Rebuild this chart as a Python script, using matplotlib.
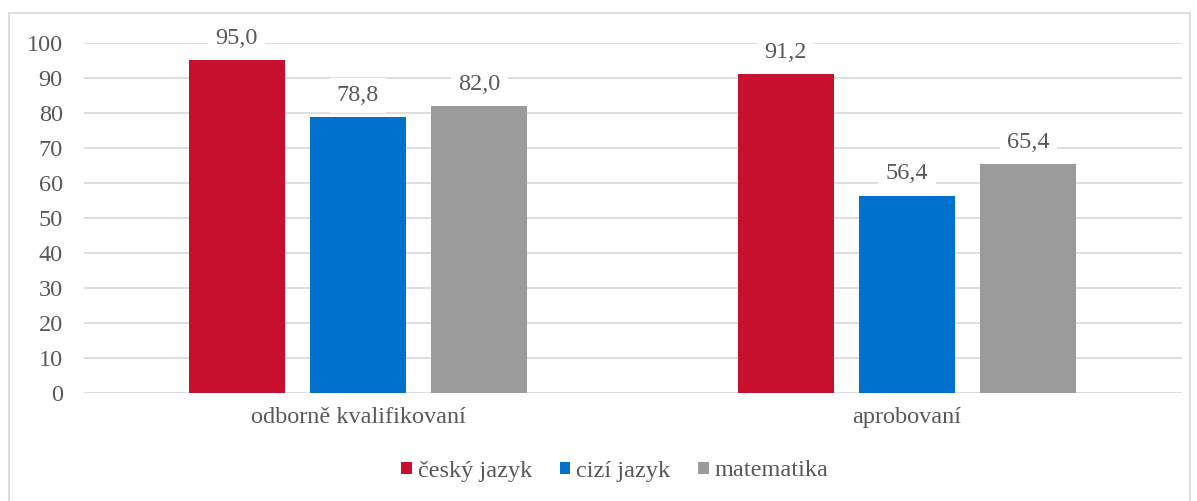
import matplotlib
matplotlib.use("Agg")
import matplotlib.pyplot as plt
import numpy as np
from matplotlib.patches import Rectangle

categories = ["odborně kvalifikovaní", "aprobovaní"]
series_names = ["český jazyk", "cizí jazyk", "matematika"]
cesky = [95.0, 91.2]
cizi = [78.8, 56.4]
matematika = [82.0, 65.4]
colors = ["#C80F2E", "#0072CE", "#9B9B9B"]

plt.rcParams['font.family'] = ['Liberation Serif', 'DejaVu Serif']
txt = "#595959"
FS = 17.5

W, H = 1197, 501
fig = plt.figure(figsize=(W/100, H/100), dpi=100)
ax = fig.add_axes([83.5/W, 1-393/H, (1181.5-83.5)/W, (393-43)/H])

x = np.arange(len(categories))
bw = 0.175
off = 0.221
for i, (vals, name, c) in enumerate(zip([cesky, cizi, matematika], series_names, colors)):
    bars = ax.bar(x + (i-1)*off, vals, bw, color=c, label=name, zorder=3)
    for b, v in zip(bars, vals):
        ax.annotate(f"{v:.1f}".replace(".", ","), (b.get_x()+b.get_width()/2, v),
                    xytext=(0, 8), textcoords="offset points", ha="center", va="bottom",
                    fontsize=FS, color=txt, zorder=4,
                    bbox=dict(boxstyle="square,pad=0.3", fc="white", ec="none"))

ax.set_xlim(-0.5, 1.5)
ax.set_ylim(0, 100)
ax.set_yticks(range(0, 101, 10))
ax.set_xticks(x)
ax.set_xticklabels(categories)
ax.tick_params(axis="both", length=0, labelsize=FS, colors=txt)
ax.tick_params(axis="y", pad=15)
ax.tick_params(axis="x", pad=10)
ax.grid(axis="y", color="#D9D9D9", linewidth=1.2, zorder=0)
for s in ax.spines.values():
    s.set_visible(False)

leg = fig.legend(loc="center", bbox_to_anchor=(615/W, 1-471/H), ncol=3, frameon=False,
                 fontsize=FS, handlelength=0.42, handleheight=0.42, handletextpad=0.25,
                 columnspacing=1.15, labelcolor=txt)

fig.patches.append(Rectangle((9/W, -0.05), (1190-9)/W, 1-13/H+0.05, transform=fig.transFigure,
                             fill=False, ec="#D9D9D9", lw=1.2))

fig.savefig("out.png", dpi=100)
